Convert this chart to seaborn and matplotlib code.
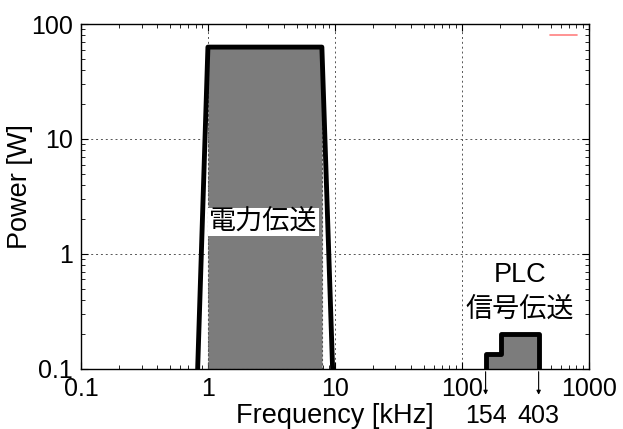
"""
Power vs frequency: power transfer band and PLC signal band
"""
import matplotlib
matplotlib.use("Agg")
import matplotlib.pyplot as plt
from matplotlib.lines import Line2D
import pandas as pd
import seaborn as sns

# power transfer band (kHz, W)
power_freq = [0.83, 1.0, 7.9, 9.6]
power_level = [0.1, 63, 63, 0.1]
power_fill_freq = [1.0, 7.9]
power_fill_level = 63

# PLC signal band (kHz, W)
plc_freq = [154, 154, 202, 202, 403, 403]
plc_level = [0.1, 0.135, 0.135, 0.2, 0.2, 0.1]

plc_marks = [154, 403]
x_ticks = [0.1, 1, 10, 100, 1000]
x_ticklabels = ["0.1", "1", "10", "100", "1000"]
y_ticks = [0.1, 1, 10, 100]
y_ticklabels = ["0.1", "1", "10", "100"]

sns.set_style("ticks")
plt.rcParams["font.family"] = ["Liberation Sans", "Noto Sans CJK JP", "DejaVu Sans"]
plt.rcParams["text.color"] = "black"
plt.rcParams["axes.labelcolor"] = "black"

fig = plt.figure(figsize=(6.23, 4.29), dpi=100)
ax = fig.add_axes([0.130, 0.140, 0.815, 0.804])
ax.set_xscale("log")
ax.set_yscale("log")

gray = "#7c7c7c"
ax.fill_between(power_fill_freq, 0.1, power_fill_level, facecolor=gray,
                edgecolor="#555555", linestyle=(0, (2, 2)), linewidth=0.8, zorder=2)
ax.fill_between(plc_freq, 0.1, plc_level, facecolor=gray, linewidth=0, zorder=2)

df_power = pd.DataFrame({"f": power_freq, "p": power_level})
df_plc = pd.DataFrame({"f": plc_freq, "p": plc_level})
sns.lineplot(data=df_power, x="f", y="p", sort=False, estimator=None, color="black",
             linewidth=3.5, ax=ax, zorder=3)
sns.lineplot(data=df_plc, x="f", y="p", sort=False, estimator=None, color="black",
             linewidth=3.5, ax=ax, zorder=3)

ax.set_xlim(0.1, 1000)
ax.set_ylim(0.1, 100)
ax.set_xticks(x_ticks)
ax.set_xticklabels(x_ticklabels)
ax.set_yticks(y_ticks)
ax.set_yticklabels(y_ticklabels)
ax.tick_params(which="both", direction="in", top=True, right=True, labelsize=18,
               colors="black")
ax.tick_params(which="major", length=5)
ax.tick_params(axis="x", which="major", pad=6)
ax.tick_params(axis="y", which="major", pad=6)
ax.tick_params(which="minor", length=3)
ax.grid(True, which="major", color="#555555", linestyle=(0, (2, 3)), linewidth=0.7)
for s in ax.spines.values():
    s.set_linewidth(1.0)
    s.set_color("black")

ax.set_xlabel("Frequency [kHz]", fontsize=19.5, labelpad=1)
ax.set_ylabel("Power [W]", fontsize=19.5)
ax.yaxis.set_label_coords(-0.094, 0.53)

ax.text(2.75, 1.9, "電力伝送", fontsize=19.5, ha="center", va="center", zorder=4,
        bbox=dict(facecolor="white", edgecolor="none", pad=1))
ax.text(286, 0.656, "PLC", fontsize=19.5, ha="center", va="center", zorder=4)
ax.text(286, 0.326, "信号伝送", fontsize=19.5, ha="center", va="center", zorder=4)

for f in plc_marks:
    ax.annotate("", xy=(f, -0.083), xycoords=("data", "axes fraction"),
                xytext=(f, 0.0), textcoords=("data", "axes fraction"),
                arrowprops=dict(arrowstyle="-|>", color="black", lw=0.8,
                                mutation_scale=6), annotation_clip=False)
    ax.text(f, -0.135, str(f), transform=ax.get_xaxis_transform(), fontsize=18,
            ha="center", va="center")

ax.legend(handles=[Line2D([], [], color="#ff8080", linewidth=1.2)], labels=[""],
          loc="upper right", frameon=False, handlelength=1.95, fontsize=10,
          bbox_to_anchor=(1.024, 1.023))

fig.savefig("out.png", dpi=100)
